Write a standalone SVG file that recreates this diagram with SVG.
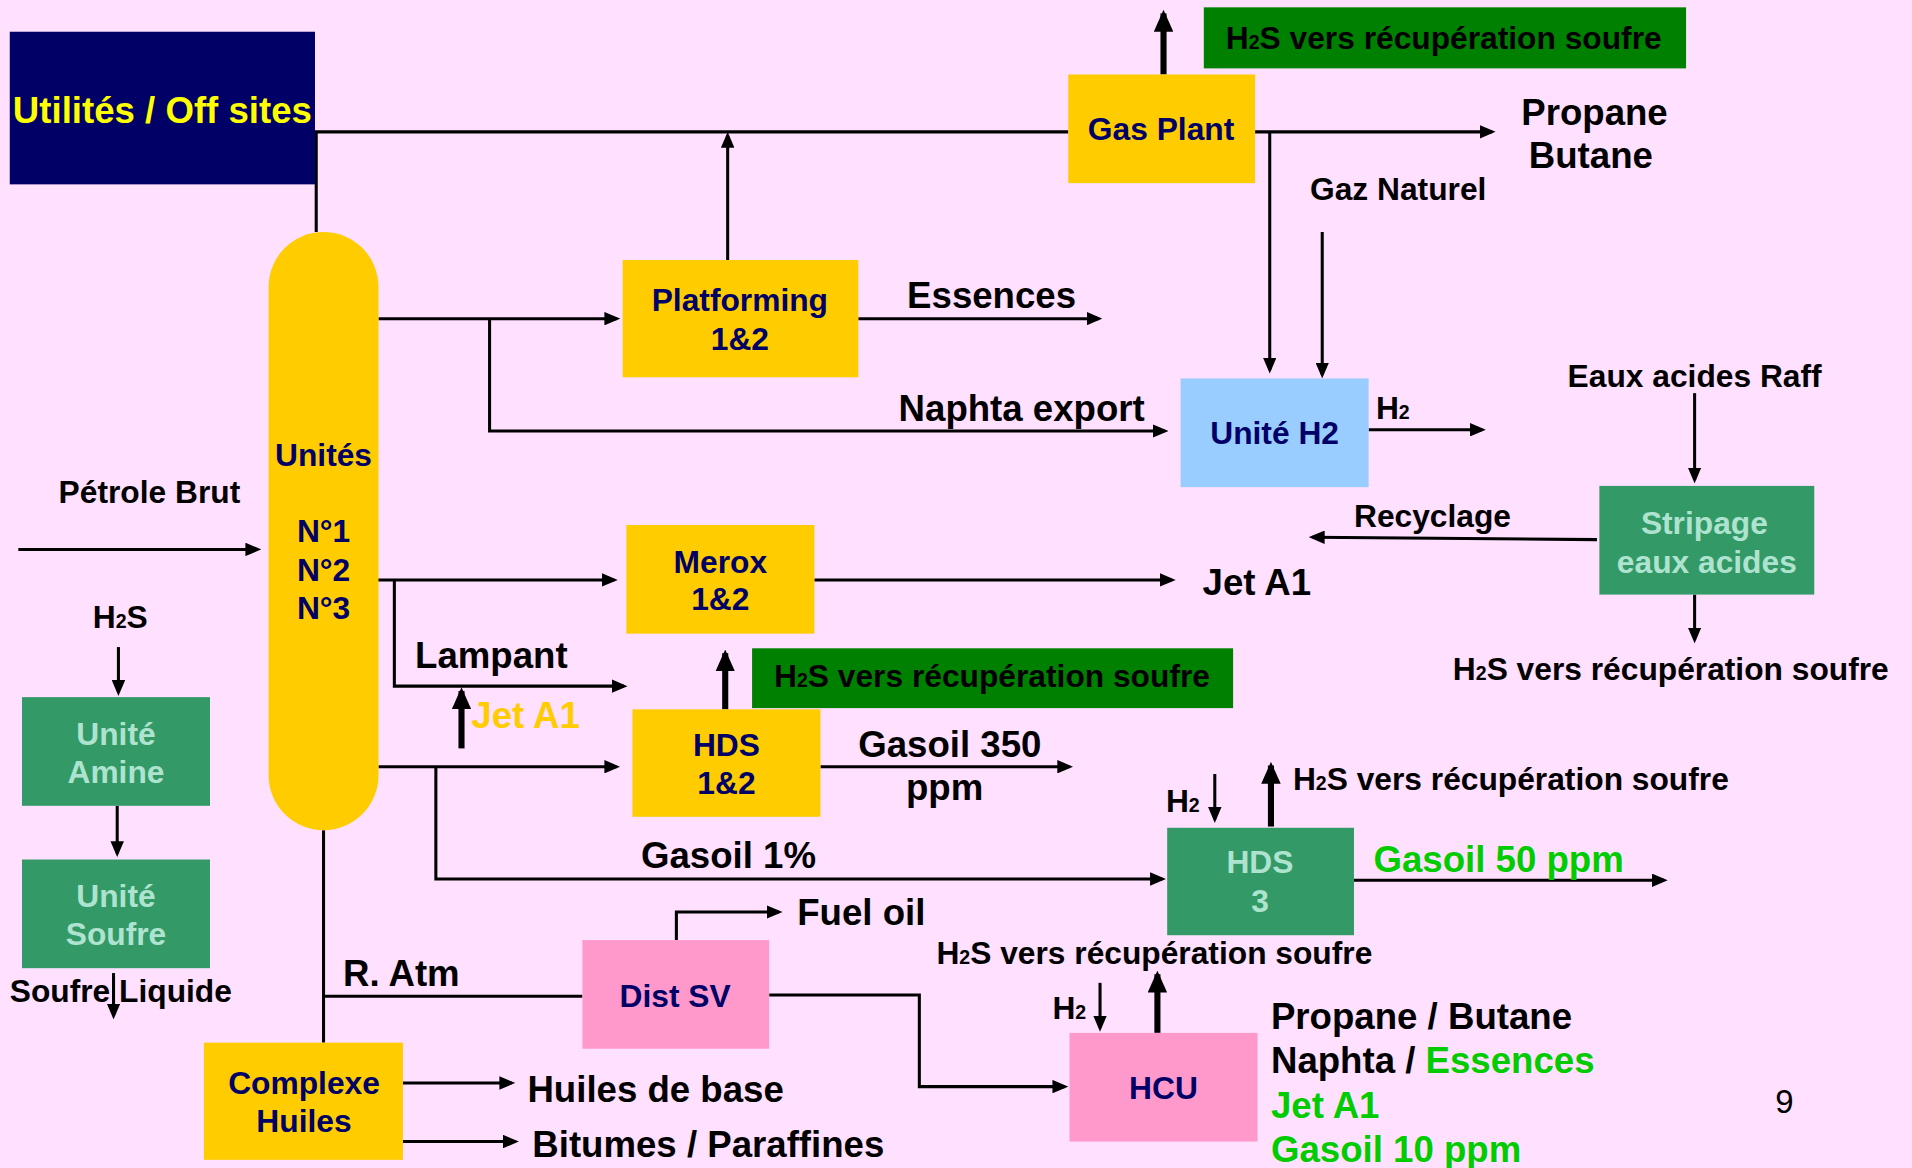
<svg xmlns="http://www.w3.org/2000/svg" width="1912" height="1168" viewBox="0 0 1912 1168">
<style>
text{font-family:'Liberation Sans',Arial,Helvetica,sans-serif;font-weight:bold}
.n{font-size:26px;fill:#000066;text-anchor:middle}
.lb{font-size:30px;fill:#000}
.lm{font-size:26px;fill:#000}
.gr{fill:#00CC00}
.yt{fill:#FFCC00}
.tl{fill:#AEE3CF}
.sub{font-size:16px}
.pg{font-weight:normal;font-size:27px;fill:#000}
.c{fill:none;stroke:#000;stroke-width:2.5}
.a{marker-end:url(#ah)}
.t{fill:none;stroke:#000;stroke-width:5;marker-end:url(#th)}
.yel{fill:#FFCC00}
.tea{fill:#339966}
.pnk{fill:#FF99CC}
</style>
<defs>
<marker id="ah" markerUnits="userSpaceOnUse" markerWidth="13" markerHeight="11" refX="10" refY="5.5" orient="auto" viewBox="0 0 13 11"><path d="M0,0 L13,5.5 L0,11 z" fill="#000"/></marker>
<marker id="th" markerUnits="userSpaceOnUse" markerWidth="18" markerHeight="16" refX="15" refY="8" orient="auto" viewBox="0 0 18 16"><path d="M0,0 L18,8 L0,16 z" fill="#000"/></marker>
</defs>
<rect x="0" y="0" width="1912" height="1168" fill="#FFE0FF"/>
<g transform="scale(1.2209)">
<g id="connectors">
<path class="c" d="M258,108 H875"/>
<path class="c" d="M259,108 V190"/>
<path class="c a" d="M596,213 V111"/>
<path class="c a" d="M1028,108 H1222"/>
<path class="c a" d="M1040,108 V303"/>
<path class="c a" d="M1083,190 V307"/>
<path class="c a" d="M310,261 H505"/>
<path class="c a" d="M401,261 V353 H954"/>
<path class="c a" d="M703,261 H900"/>
<path class="c a" d="M1121,352 H1214"/>
<path class="c a" d="M1388,322 V393"/>
<path class="c a" d="M1308,442 L1075,440"/>
<path class="c a" d="M1388,487 V524"/>
<path class="c a" d="M15,450 H211"/>
<path class="c a" d="M307,475 H503"/>
<path class="c a" d="M323,475 V562 H511"/>
<path class="c a" d="M667,475 H960"/>
<path class="c a" d="M310,628 H505"/>
<path class="c a" d="M357,628 V720 H952"/>
<path class="c a" d="M672,628 H876"/>
<path class="c a" d="M995,634 V671"/>
<path class="c a" d="M1109,721 H1363"/>
<path class="c a" d="M901,805 V842"/>
<path class="c" d="M265,680 V854"/>
<path class="c" d="M265,816 H477"/>
<path class="c a" d="M554,770 V747 H638"/>
<path class="c a" d="M630,815 H753 V890 H872"/>
<path class="c a" d="M330,887 H419"/>
<path class="c a" d="M330,935 H422"/>
<path class="c a" d="M97,530 V567"/>
<path class="c a" d="M96,660 V699"/>
<path class="c a" d="M93,797 V832"/>
<path class="t" d="M953,61 V11"/>
<path class="t" d="M378,613 V566"/>
<path class="t" d="M594,581 V535"/>
<path class="t" d="M1041,677 V627"/>
<path class="t" d="M948,846 V798"/>
</g>
<g id="utilites">
<rect x="8" y="26" width="250" height="125" fill="#000066"/>
<text x="133" y="101" text-anchor="middle" font-size="30" fill="#FFFF00">Utilités / Off sites</text>
</g>
<g id="unites">
<rect x="220" y="190" width="90" height="490" rx="45" ry="45" class="yel"/>
<text class="n" x="265" y="382">Unités</text>
<text class="n" x="265" y="444">N°1</text>
<text class="n" x="265" y="476">N°2</text>
<text class="n" x="265" y="507">N°3</text>
</g>
<g id="platforming">
<rect x="510" y="213" width="193" height="96" class="yel"/>
<text class="n" x="606" y="255">Platforming</text>
<text class="n" x="606" y="287">1&amp;2</text>
</g>
<g id="gasplant">
<rect x="875" y="61" width="153" height="89" class="yel"/>
<text class="n" x="951" y="115">Gas Plant</text>
</g>
<g id="h2s-top">
<rect x="986" y="6" width="395" height="50" fill="#008000"/>
<text class="lm" x="1004" y="40">H<tspan class="sub">2</tspan>S vers récupération soufre</text>
</g>
<g id="uniteh2">
<rect x="967" y="310" width="154" height="89" fill="#99CCFF"/>
<text class="n" x="1044" y="364">Unité H2</text>
</g>
<g id="merox">
<rect x="513" y="430" width="154" height="89" class="yel"/>
<text class="n" x="590" y="469">Merox</text>
<text class="n" x="590" y="500">1&amp;2</text>
</g>
<g id="h2s-mid">
<rect x="616" y="531" width="394" height="49" fill="#008000"/>
<text class="lm" x="634" y="563">H<tspan class="sub">2</tspan>S vers récupération soufre</text>
</g>
<g id="hds12">
<rect x="518" y="581" width="154" height="88" class="yel"/>
<text class="n" x="595" y="619">HDS</text>
<text class="n" x="595" y="650">1&amp;2</text>
</g>
<g id="stripage">
<rect x="1310" y="398" width="176" height="89" class="tea"/>
<text class="n tl" x="1396" y="437">Stripage</text>
<text class="n tl" x="1398" y="469">eaux acides</text>
</g>
<g id="amine">
<rect x="18" y="571" width="154" height="89" class="tea"/>
<text class="n tl" x="95" y="610">Unité</text>
<text class="n tl" x="95" y="641">Amine</text>
</g>
<g id="soufre">
<rect x="18" y="704" width="154" height="89" class="tea"/>
<text class="n tl" x="95" y="743">Unité</text>
<text class="n tl" x="95" y="774">Soufre</text>
</g>
<g id="hds3">
<rect x="956" y="678" width="153" height="88" class="tea"/>
<text class="n tl" x="1032" y="715">HDS</text>
<text class="n tl" x="1032" y="747">3</text>
</g>
<g id="distsv">
<rect x="477" y="770" width="153" height="89" class="pnk"/>
<text class="n" x="553" y="825">Dist SV</text>
</g>
<g id="hcu">
<rect x="876" y="846" width="154" height="89" class="pnk"/>
<text class="n" x="953" y="900">HCU</text>
</g>
<g id="complexe">
<rect x="167" y="854" width="163" height="96" class="yel"/>
<text class="n" x="249" y="896">Complexe</text>
<text class="n" x="249" y="927">Huiles</text>
</g>
<g id="labels">
<text class="lb" x="1306" y="102" text-anchor="middle">Propane</text>
<text class="lb" x="1303" y="138" text-anchor="middle">Butane</text>
<text class="lm" x="1073" y="164">Gaz Naturel</text>
<text class="lb" x="743" y="252">Essences</text>
<text class="lb" x="736" y="345">Naphta export</text>
<text class="lm" x="1127" y="343" font-size="24">H<tspan class="sub">2</tspan></text>
<text class="lm" x="1284" y="317">Eaux acides Raff</text>
<text class="lm" x="48" y="412">Pétrole Brut</text>
<text class="lm" x="1109" y="432">Recyclage</text>
<text class="lb" x="985" y="487">Jet A1</text>
<text class="lm" x="76" y="514">H<tspan class="sub">2</tspan>S</text>
<text class="lb" x="340" y="547">Lampant</text>
<text class="lm" x="1190" y="557">H<tspan class="sub">2</tspan>S vers récupération soufre</text>
<text class="lb yt" x="386" y="596">Jet A1</text>
<text class="lb" x="703" y="620">Gasoil 350</text>
<text class="lb" x="742" y="655">ppm</text>
<text class="lm" x="1059" y="647">H<tspan class="sub">2</tspan>S vers récupération soufre</text>
<text class="lm" x="955" y="665" font-size="24">H<tspan class="sub">2</tspan></text>
<text class="lb" x="525" y="711">Gasoil 1%</text>
<text class="lb gr" x="1125" y="714">Gasoil 50 ppm</text>
<text class="lb" x="653" y="758">Fuel oil</text>
<text class="lm" x="767" y="790">H<tspan class="sub">2</tspan>S vers récupération soufre</text>
<text class="lb" x="281" y="808">R. Atm</text>
<text class="lm" x="8" y="821">Soufre Liquide</text>
<text class="lm" x="862" y="835" font-size="24">H<tspan class="sub">2</tspan></text>
<text class="lb" x="1041" y="843">Propane / Butane</text>
<text class="lb" x="1041" y="879">Naphta / <tspan class="gr">Essences</tspan></text>
<text class="lb gr" x="1041" y="916">Jet A1</text>
<text class="lb gr" x="1041" y="952">Gasoil 10 ppm</text>
<text class="lb" x="432" y="903">Huiles de base</text>
<text class="lb" x="436" y="948">Bitumes / Paraffines</text>
<text class="pg" x="1454" y="912">9</text>
</g>
</g>
</svg>
